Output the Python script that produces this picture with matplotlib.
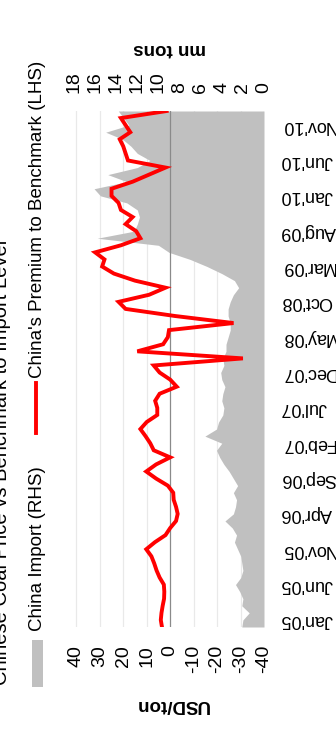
import matplotlib
matplotlib.use('Agg')

import numpy as np
import matplotlib.pyplot as plt
from matplotlib.patches import Rectangle
from matplotlib.lines import Line2D

plt.rcParams['font.family'] = ['Liberation Sans', 'DejaVu Sans']
plt.rcParams['axes.unicode_minus'] = False

# months counted from Jan 2005 (first point is Dec 2004)
months = np.arange(-1, 73)

# China's premium to benchmark, USD/ton (LHS)
premium = [3.5, 4.0, 3.7, 3.2, 2.6, 2.5, 2.7, 4.5, 5.8, 6.8,
           8.0, 10.2, 6.5, 2.0, 0.0, -2.5, -3.2, -2.5, -1.5, -1.3,
           1.0, 6.0, 10.2, 6.0, 0.0, 7.0, 8.5, 10.5, 12.7, 10.0,
           5.5, 5.5, 6.4, 4.5, -2.8, 0.0, 4.5, 7.0, -31.0, 14.0,
           3.0, 1.0, 0.5, -27.0, -2.0, 19.0, 22.0, 9.0, 2.0, 15.0,
           24.0, 29.0, 28.0, 32.0, 21.0, 12.7, 14.5, 19.0, 16.0, 21.0,
           22.0, 25.0, 25.0, 16.0, 9.0, 2.0, 18.0, 19.0, 20.0, 21.5,
           17.0, 19.0, 21.0, 1.5]

# China coal imports, mn tons (RHS)
imports = [2.1, 2.0, 1.4, 2.1, 2.0, 2.3, 2.7, 2.2, 2.0, 2.1,
           2.2, 2.5, 2.8, 2.6, 3.0, 3.7, 2.9, 2.7, 2.6, 2.9,
           2.5, 2.9, 3.3, 3.8, 4.2, 4.5, 4.0, 5.6, 4.5, 4.3,
           3.9, 3.8, 4.0, 3.9, 3.7, 4.0, 4.1, 3.8, 3.9, 3.6,
           3.6, 3.4, 3.2, 3.2, 3.4, 3.4, 3.2, 2.9, 2.4, 2.8,
           4.0, 5.4, 7.0, 9.0, 10.0, 15.8, 12.3, 12.0, 11.8, 12.0,
           13.0, 15.5, 16.1, 13.0, 14.8, 12.0, 10.8, 12.0, 12.6, 13.4,
           15.0, 12.8, 13.3, 13.8]

date_ticks = [0, 5, 10, 15, 20, 25, 30, 35, 40, 45, 50, 55, 60, 65, 70]
date_labels = ["Jan'05", "Jun'05", "Nov'05", "Apr'06", "Sep'06", "Feb'07",
               "Jul'07", "Dec'07", "May'08", "Oct'08", "Mar'09", "Aug'09",
               "Jan'10", "Jun'10", "Nov'10"]
usd_ticks = [40, 30, 20, 10, 0, -10, -20, -30, -40]
ton_ticks = [18, 16, 14, 12, 10, 8, 6, 4, 2, 0]

usd_lim = (41, -40)
ton_lim = (18, 0)

W, H = 336, 740
fig = plt.figure(figsize=(W / 100, H / 100), dpi=100)
left, right, top, bottom = 74, 264, 111, 627
ax = fig.add_axes([left / W, 1 - bottom / H, (right - left) / W, (bottom - top) / H])
ax2 = ax.twiny()


def usd_to_ton(v):
    return (v - usd_lim[1]) / (usd_lim[0] - usd_lim[1]) * (ton_lim[0] - ton_lim[1]) + ton_lim[1]


# area axis (tons) sits below, line axis (USD) on top
for v in usd_ticks:
    if v != 0:
        ax.axvline(usd_to_ton(v), color='#e9e9e9', lw=0.9, zorder=0)
ax.fill_betweenx(months, 0, imports, color='#c0c0c0', lw=0, zorder=1)
ax.set_xlim(*ton_lim)
ax.set_ylim(months[0], months[-1])

ax2.axvline(0, color='#8a8a8a', lw=0.9, zorder=1)
ax2.plot(premium, months, color='#ff0000', lw=2.8, zorder=3, solid_joinstyle='miter')
ax2.set_xlim(*usd_lim)

for a in (ax, ax2):
    for s in a.spines.values():
        s.set_visible(False)
ax2.patch.set_visible(False)

# tons ticks on top
ax.xaxis.tick_top()
ax.set_xticks(ton_ticks)
ax.set_xticklabels([str(t) for t in ton_ticks])
ax.tick_params(axis='x', length=0, pad=13, labelsize=14, labelrotation=90)

# USD ticks on bottom
ax2.xaxis.set_ticks_position('bottom')
ax2.xaxis.set_label_position('bottom')
ax2.set_xticks(usd_ticks)
ax2.set_xticklabels([str(v) for v in usd_ticks])
ax2.tick_params(axis='x', length=0, pad=13, labelsize=14, labelrotation=90)

# dates on the right, upside down
ax.yaxis.tick_right()
ax.set_yticks(date_ticks)
ax.set_yticklabels(date_labels)
ax.tick_params(axis='y', length=0, pad=12, labelsize=13, labelrotation=180)
for lab in ax.get_yticklabels():
    lab.set_va('center')

fig.text(172 / W, 1 - 705 / H, 'USD/ton', rotation=180, ha='center', va='center',
         fontsize=13.5, fontweight='bold')
fig.text(170 / W, 1 - 49 / H, 'mn tons', rotation=180, ha='center', va='center',
         fontsize=13.5, fontweight='bold')

# legend
fig.patches.append(Rectangle((32 / W, 1 - 687 / H), 11 / W, 47 / H,
                             transform=fig.transFigure, color='#c0c0c0', lw=0))
fig.lines.append(Line2D([35.5 / W, 35.5 / W], [1 - 433 / H, 1 - 383 / H],
                        transform=fig.transFigure, color='#ff0000', lw=2.8))
fig.text(37.5 / W, 1 - 631 / H, 'China Import (RHS)', rotation=90,
         ha='center', va='bottom', fontsize=13.5)
fig.text(37.5 / W, 1 - 378 / H, "China's Premium to Benchmark (LHS)", rotation=90,
         ha='center', va='bottom', fontsize=13.5)

# title, partly cut off at the left edge
fig.text(7 / W, 1 - 240 / H, 'Chinese Coal Price vs Benchmark to Import Level',
         rotation=90, rotation_mode='anchor', ha='right', va='baseline', fontsize=14.5)

fig.savefig('out.png', dpi=100)
